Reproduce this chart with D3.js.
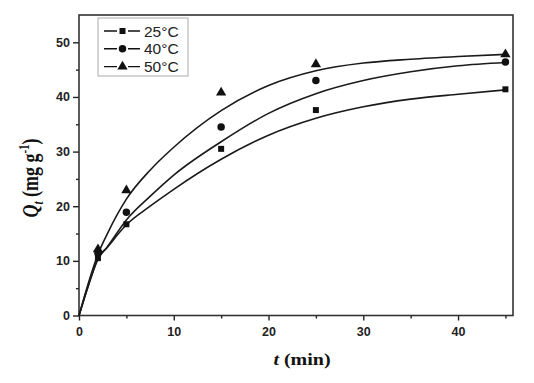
<!DOCTYPE html>
<html>
<head>
<meta charset="utf-8">
<title>Qt vs t</title>
<script src="https://d3js.org/d3.v7.min.js"></script>
<style>
  body { margin: 0; background: #fff; }
  .tick text { font-family: "Liberation Sans", Arial, sans-serif; font-weight: bold; font-size: 12.5px; fill: #222; }
  .tick line { stroke: #222; stroke-width: 1.4; }
</style>
</head>
<body>
<div id="chart"></div>
<script>
// measured points
var times = [2, 5, 15, 25, 45];
var q25 = [10.5, 16.7, 30.5, 37.6, 41.4];
var q40 = [11.4, 18.9, 34.5, 43.0, 46.4];
var q50 = [12.1, 22.9, 40.8, 46.0, 47.8];

// fitted curves
var fitT = [0, 1, 2, 3, 5, 7.5, 10, 15, 20, 25, 30, 35, 40, 45];
var fit25 = [0, 5.6, 10.4, 12.5, 16.6, 20.0, 23.1, 28.6, 33.0, 36.1, 38.2, 39.6, 40.5, 41.3];
var fit40 = [0, 5.5, 10.3, 12.6, 17.5, 21.8, 25.7, 31.8, 37.0, 40.6, 43.0, 44.6, 45.7, 46.3];
var fit50 = [0, 6.0, 11.2, 15.0, 21.3, 26.6, 30.8, 37.5, 42.1, 44.8, 46.2, 46.9, 47.4, 47.8];

var seriesNames = ["25°C", "40°C", "50°C"];
var symbols = [d3.symbolSquare, d3.symbolCircle, d3.symbolTriangle];
var symSize = [36, 44, 46];

var xTicks = [0, 10, 20, 30, 40];
var xMinor = [5, 15, 25, 35, 45];
var yTicks = [0, 10, 20, 30, 40, 50];
var yMinor = [5, 15, 25, 35, 45];

var W = 534, H = 383;
var x = d3.scaleLinear().domain([0, 45.8]).range([79, 513]);
var y = d3.scaleLinear().domain([0, 55]).range([315.5, 15]);

var svg = d3.select("#chart").append("svg")
  .attr("width", W).attr("height", H);

// x axis
var gx = svg.append("g").attr("transform", "translate(0," + y(0) + ")")
  .call(d3.axisBottom(x).tickValues(xTicks).tickSize(5).tickPadding(7));
gx.select(".domain").remove();
svg.append("g").attr("transform", "translate(0," + y(0) + ")")
  .call(d3.axisBottom(x).tickValues(xMinor).tickSize(3).tickFormat(""))
  .select(".domain").remove();

// y axis
var gy = svg.append("g").attr("transform", "translate(" + x(0) + ",0)")
  .call(d3.axisLeft(y).tickValues(yTicks).tickSize(6).tickPadding(3));
gy.select(".domain").remove();
svg.append("g").attr("transform", "translate(" + x(0) + ",0)")
  .call(d3.axisLeft(y).tickValues(yMinor).tickSize(3).tickFormat(""))
  .select(".domain").remove();

// frame
svg.append("rect")
  .attr("x", x(0)).attr("y", y(55))
  .attr("width", x(45.8) - x(0)).attr("height", y(0) - y(55))
  .attr("fill", "none").attr("stroke", "#333").attr("stroke-width", 1.6);

// fitted lines
var line = d3.line()
  .x(function(d) { return x(d[0]); })
  .y(function(d) { return y(d[1]); })
  .curve(d3.curveMonotoneX);

[fit25, fit40, fit50].forEach(function(f) {
  svg.append("path")
    .datum(fitT.map(function(t, i) { return [t, f[i]]; }))
    .attr("d", line)
    .attr("fill", "none").attr("stroke", "#1a1a1a").attr("stroke-width", 1.6);
});

// markers
[q25, q40, q50].forEach(function(q, s) {
  svg.selectAll(".m" + s)
    .data(times.map(function(t, i) { return [t, q[i]]; }))
    .enter().append("path")
    .attr("class", "m" + s)
    .attr("transform", function(d) { return "translate(" + x(d[0]) + "," + y(d[1]) + ")"; })
    .attr("d", d3.symbol().type(symbols[s]).size(symSize[s]))
    .attr("fill", "#111");
});

// legend
var lg = svg.append("g");
lg.append("rect").attr("x", 98).attr("y", 18).attr("width", 90).attr("height", 58)
  .attr("fill", "#fff").attr("stroke", "#aaa").attr("stroke-width", 1);
seriesNames.forEach(function(n, i) {
  var ly = 31 + i * 17.8;
  lg.append("line").attr("x1", 104).attr("x2", 140).attr("y1", ly).attr("y2", ly)
    .attr("stroke", "#111").attr("stroke-width", 1.4);
  lg.append("rect").attr("x", 117).attr("y", ly - 5).attr("width", 11).attr("height", 10).attr("fill", "#fff");
  lg.append("path").attr("transform", "translate(122.5," + ly + ")")
    .attr("d", d3.symbol().type(symbols[i]).size(symSize[i]))
    .attr("fill", "#111");
  lg.append("text").attr("x", 144).attr("y", ly + 5.5)
    .attr("font-family", "Liberation Sans, Arial, sans-serif").attr("font-size", 15.5)
    .attr("fill", "#222").text(n);
});

// axis titles (the source figure is stretched sideways, hence the scale)
var xt = svg.append("text").attr("transform", "translate(302,365) scale(1.25,1)")
  .attr("text-anchor", "middle")
  .attr("font-family", "Liberation Serif, Times New Roman, serif")
  .attr("font-weight", "bold").attr("font-size", 16).attr("fill", "#111");
xt.append("tspan").attr("font-style", "italic").text("t");
xt.append("tspan").text(" (min)");

var yt = svg.append("text").attr("transform", "translate(38,178) rotate(-90) scale(1,1.25)")
  .attr("text-anchor", "middle")
  .attr("font-family", "Liberation Serif, Times New Roman, serif")
  .attr("font-weight", "bold").attr("font-size", 18).attr("fill", "#111");
yt.append("tspan").attr("font-style", "italic").text("Q");
yt.append("tspan").attr("font-style", "italic").attr("font-size", 11).attr("dy", 4).text("t");
yt.append("tspan").attr("dy", -4).text(" (mg g");
yt.append("tspan").attr("font-size", 11).attr("dy", -7).text("-1");
yt.append("tspan").attr("dy", 7).text(")");
</script>
</body>
</html>
